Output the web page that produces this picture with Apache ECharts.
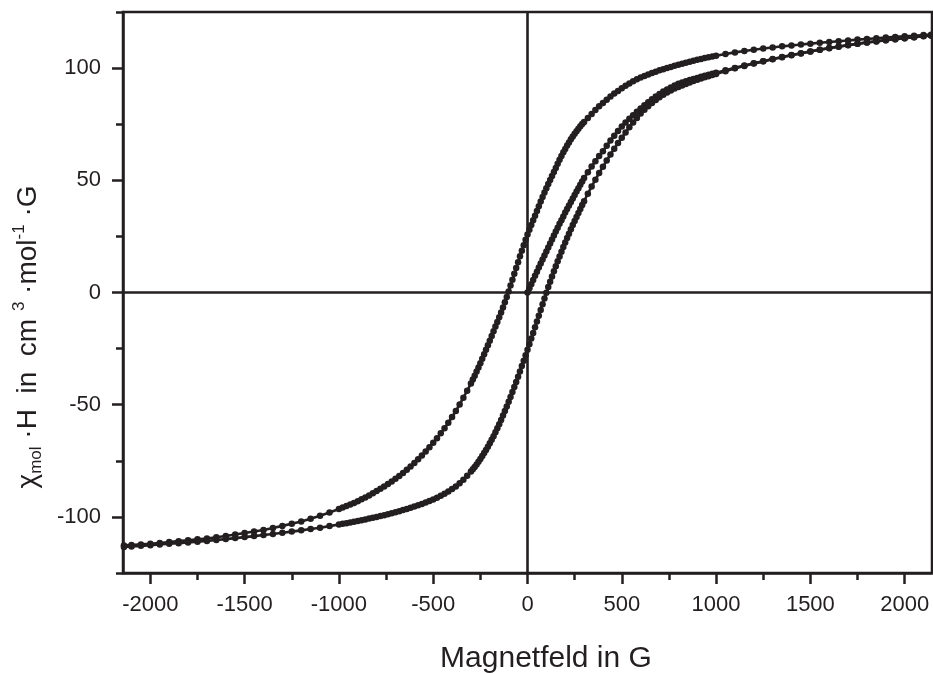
<!DOCTYPE html>
<html>
<head>
<meta charset="utf-8">
<script src="https://cdn.jsdelivr.net/npm/echarts@6/dist/echarts.min.js"></script>
<style>
html,body{margin:0;padding:0;background:#fff;}
#chart{width:933px;height:673px;}
</style>
</head>
<body>
<div id="chart"></div>
<script>
// ---- data (field in G, chi*H) ----
const branchVirgin = [
[0,0],[10,1.86],[20,3.72],[30,5.58],[40,7.44],[50,9.3],[60,11.1],[70,12.9],[80,14.7],[90,16.5],[100,18.3],
[110,20.08],[120,21.86],[130,23.64],[140,25.42],[150,27.2],[160,28.9],[170,30.6],[180,32.25],[190,33.9],[200,35.6],
[210,37.2],[220,38.8],[230,40.35],[240,41.9],[250,43.5],[260,45.0],[270,46.5],[280,48.0],[290,49.5],[300,51.0],
[320,53.6],[340,56.1],[360,58.5],[380,60.8],[400,63.0],[420,65.4],[440,67.7],[460,69.9],[480,72.0],[500,74.0],
[520,75.75],[540,77.4],[560,79.0],[580,80.55],[600,82.0],[620,83.45],[640,84.8],[660,86.1],[680,87.35],[700,88.5],
[720,89.55],[740,90.5],[760,91.4],[780,92.25],[800,93.0],[820,93.6],[840,94.15],[860,94.67],[880,95.15],[900,95.6],
[920,96.1],[940,96.57],[960,97.03],[980,97.47],[1000,97.9],
[1050,99.0],[1100,100.1],[1150,101.15],[1200,102.15],[1250,103.1],[1300,104.05],[1350,104.95],[1400,105.8],
[1450,106.65],[1500,107.45],[1550,108.2],[1600,108.95],[1650,109.6],[1700,110.25],[1750,110.85],[1800,111.45],
[1850,111.95],[1900,112.45],[1950,112.9],[2000,113.35],[2050,113.8],[2100,114.25],[2140,114.5]
];
const branchDown = [
[2140,114.9],[2100,114.7],[2050,114.4],[2000,114.2],[1950,113.9],[1900,113.6],[1850,113.3],[1800,113.0],
[1750,112.7],[1700,112.3],[1650,112.0],[1600,111.6],[1550,111.3],[1500,110.9],[1450,110.5],[1400,110.1],
[1350,109.7],[1300,109.2],[1250,108.7],[1200,108.2],[1150,107.6],[1100,107.0],[1050,106.3],[1000,105.5],
[980,105.15],[960,104.8],[940,104.45],[920,104.1],[900,103.7],[880,103.28],[860,102.85],[840,102.4],[820,101.95],
[800,101.5],[780,101.02],[760,100.52],[740,100.02],[720,99.52],[700,99.0],[680,98.42],[660,97.8],[640,97.15],
[620,96.5],[600,95.8],[580,95.0],[560,94.1],[540,93.1],[520,92.1],[500,91.0],[480,89.85],[460,88.65],[440,87.35],
[420,85.95],[400,84.5],[380,82.95],[360,81.3],[340,79.6],[320,77.8],[300,76.0],
[290,75.05],[280,74.05],[270,73.0],[260,71.9],[250,70.75],[240,69.55],[230,68.25],[220,66.9],[210,65.5],[200,64.0],
[190,62.45],[180,60.85],[170,59.15],[160,57.35],[150,55.5],[140,53.75],[130,51.95],[120,50.15],[110,48.35],[100,46.5],
[90,44.55],[80,42.55],[70,40.5],[60,38.4],[50,36.3],[40,34.25],[30,32.15],[20,30.05],[10,27.95],[0,25.8],
[-10,23.5],[-20,21.1],[-30,18.6],[-40,16.1],[-50,13.5],[-60,10.9],[-70,8.3],[-80,5.7],[-90,3.1],[-100,0.5],
[-110,-2.0],[-120,-4.4],[-130,-6.7],[-140,-8.9],[-150,-11.0],[-160,-13.1],[-170,-15.2],[-180,-17.3],[-190,-19.4],[-200,-21.5],
[-210,-23.5],[-220,-25.5],[-230,-27.5],[-240,-29.5],[-250,-31.5],[-260,-33.4],[-270,-35.25],[-280,-37.05],[-290,-38.8],[-300,-40.5],
[-320,-43.8],[-340,-46.9],[-360,-49.9],[-380,-52.8],[-400,-55.5],[-420,-58.05],[-440,-60.45],[-460,-62.75],[-480,-64.95],[-500,-67.0],
[-520,-68.95],[-540,-70.8],[-560,-72.6],[-580,-74.35],[-600,-76.0],[-620,-77.55],[-640,-79.0],[-660,-80.4],[-680,-81.75],[-700,-83.0],
[-720,-84.2],[-740,-85.35],[-760,-86.45],[-780,-87.5],[-800,-88.5],[-820,-89.48],[-840,-90.41],[-860,-91.31],[-880,-92.18],[-900,-93.0],
[-920,-93.76],[-940,-94.48],[-960,-95.18],[-980,-95.86],[-1000,-96.5],
[-1050,-98.05],[-1100,-99.5],[-1150,-100.8],[-1200,-102.0],[-1250,-103.05],[-1300,-104.0],[-1350,-104.95],[-1400,-105.8],
[-1450,-106.5],[-1500,-107.2],[-1550,-107.85],[-1600,-108.5],[-1650,-109.05],[-1700,-109.6],[-1750,-110.0],[-1800,-110.4],
[-1850,-110.8],[-1900,-111.2],[-1950,-111.6],[-2000,-112.0],[-2050,-112.25],[-2100,-112.5],[-2140,-112.7]
];
const branchUp = [
[-2140,-113.4],[-2100,-113.2],[-2050,-112.9],[-2000,-112.6],[-1950,-112.3],[-1900,-112.0],[-1850,-111.7],[-1800,-111.4],
[-1750,-111.05],[-1700,-110.7],[-1650,-110.3],[-1600,-109.9],[-1550,-109.45],[-1500,-109.0],[-1450,-108.55],[-1400,-108.1],
[-1350,-107.6],[-1300,-107.1],[-1250,-106.55],[-1200,-106.0],[-1150,-105.4],[-1100,-104.8],[-1050,-104.1],[-1000,-103.4],
[-980,-103.1],[-960,-102.79],[-940,-102.47],[-920,-102.14],[-900,-101.8],[-880,-101.47],[-860,-101.12],[-840,-100.76],
[-820,-100.39],[-800,-100.0],[-780,-99.62],[-760,-99.22],[-740,-98.8],[-720,-98.36],[-700,-97.9],[-680,-97.45],
[-660,-96.97],[-640,-96.47],[-620,-95.95],[-600,-95.4],[-580,-94.85],[-560,-94.25],[-540,-93.61],[-520,-92.93],
[-500,-92.2],[-480,-91.45],[-460,-90.6],[-440,-89.68],[-420,-88.68],[-400,-87.6],[-380,-86.4],[-360,-85.0],
[-340,-83.45],[-320,-81.7],[-300,-79.8],
[-290,-78.8],[-280,-77.73],[-270,-76.61],[-260,-75.43],[-250,-74.2],[-240,-72.9],[-230,-71.54],[-220,-70.14],[-210,-68.7],[-200,-67.2],
[-190,-65.65],[-180,-64.03],[-170,-62.33],[-160,-60.55],[-150,-58.7],[-140,-56.8],[-130,-54.85],[-120,-52.85],[-110,-50.8],[-100,-48.7],
[-90,-46.55],[-80,-44.35],[-70,-42.11],[-60,-39.83],[-50,-37.5],[-40,-35.15],[-30,-32.77],[-20,-30.37],[-10,-27.95],[0,-25.5],
[10,-23.02],[20,-20.52],[30,-18.0],[40,-15.46],[50,-12.9],[60,-10.34],[70,-7.78],[80,-5.22],[90,-2.66],[100,-0.1],
[110,2.4],[120,4.82],[130,7.18],[140,9.48],[150,11.7],[160,13.88],[170,16.02],[180,18.14],[190,20.24],[200,22.3],
[210,24.28],[220,26.22],[230,28.14],[240,30.04],[250,31.9],[260,33.7],[270,35.48],[280,37.24],[290,38.98],[300,40.7],
[320,44.0],[340,47.2],[360,50.25],[380,53.2],[400,56.0],[420,58.8],[440,61.5],[460,64.1],[480,66.6],[500,69.0],
[520,71.35],[540,73.6],[560,75.75],[580,77.8],[600,79.8],[620,81.45],[640,83.0],[660,84.45],[680,85.8],[700,87.0],
[720,88.1],[740,89.1],[760,90.02],[780,90.86],[800,91.6],[820,92.3],[840,92.96],[860,93.6],[880,94.22],[900,94.8],
[920,95.36],[940,95.89],[960,96.41],[980,96.91],[1000,97.4],
[1050,98.65],[1100,99.9],[1150,100.95],[1200,102.0],[1250,103.0],[1300,103.95],[1350,104.85],[1400,105.7],
[1450,106.55],[1500,107.4],[1550,108.15],[1600,108.9],[1650,109.55],[1700,110.2],[1750,110.8],[1800,111.4],
[1850,111.9],[1900,112.4],[1950,112.85],[2000,113.3],[2050,113.75],[2100,114.2],[2140,114.5]
];
const xMajorTicks = [-2000,-1500,-1000,-500,0,500,1000,1500,2000];
const xMinorTicks = [-1750,-1250,-750,-250,250,750,1250,1750];
const yMajorTicks = [-100,-50,0,50,100];
const yMinorTicks = [-125,-75,-25,25,75,125];
const xRange = [-2145, 2145];
const yRange = [-125, 125];
const zeroLines = [0, 0];
const xTitle = 'Magnetfeld in G';

const INK = '#231f20';
const FONT = "'Liberation Sans', Arial, Helvetica, sans-serif";

const chart = echarts.init(document.getElementById('chart'), null, {renderer: 'canvas'});

function plain(v) { return String(v); }

function mainX(idx, ticks, len, showLabel) {
  return {
    type: 'value', gridIndex: 0, position: 'bottom',
    min: xRange[0], max: xRange[1],
    axisLine: {show: idx === 0, onZero: false, lineStyle: {color: INK, width: 2.5}},
    splitLine: {show: false},
    axisTick: {show: true, inside: false, length: len, customValues: ticks, lineStyle: {color: INK, width: 2.5}},
    axisLabel: {show: showLabel, customValues: ticks, formatter: plain, fontSize: 22, fontFamily: FONT, color: INK, margin: 21},
    z: 5
  };
}
function mainY(idx, ticks, len, showLabel) {
  return {
    type: 'value', gridIndex: 0, position: 'left',
    min: yRange[0], max: yRange[1],
    axisLine: {show: idx === 0, onZero: false, lineStyle: {color: INK, width: 2.5}},
    splitLine: {show: false},
    axisTick: {show: true, inside: false, length: len, customValues: ticks, lineStyle: {color: INK, width: 2.5}},
    axisLabel: {show: showLabel, customValues: ticks, formatter: plain, fontSize: 22, fontFamily: FONT, color: INK, margin: 22},
    z: 5
  };
}

function branch(name, data) {
  return {
    name: name, type: 'line', xAxisIndex: 0, yAxisIndex: 0,
    data: data, symbol: 'circle', symbolSize: 6.5, showAllSymbol: true,
    itemStyle: {color: INK, borderWidth: 0}, lineStyle: {color: INK, width: 2.6},
    emphasis: {disabled: true},
    smooth: false, clip: true, silent: true, z: 3
  };
}

const seriesList = [
  branch('virgin', branchVirgin),
  branch('down', branchDown),
  branch('up', branchUp)
];
seriesList[0].markLine = {
  silent: true, symbol: ['none', 'none'], animation: false,
  label: {show: false},
  emphasis: {disabled: true},
  lineStyle: {color: INK, width: 2.6, type: 'solid', opacity: 1},
  data: [{xAxis: zeroLines[0]}, {yAxis: zeroLines[1]}]
};

chart.setOption({
  animation: false,
  backgroundColor: '#ffffff',
  grid: {left: 123, right: 1, top: 12, bottom: 100, show: true, borderColor: INK, borderWidth: 2.5, backgroundColor: 'transparent', containLabel: false},
  xAxis: [mainX(0, xMajorTicks, 11, true), mainX(1, xMinorTicks, 7, false)],
  yAxis: [mainY(0, yMajorTicks, 11, true), mainY(1, yMinorTicks, 7, false)],
  series: seriesList,
  graphic: [
    {
      type: 'text', x: 546, y: 659, z: 10,
      style: {text: xTitle, font: '30px ' + FONT, fill: INK, align: 'center', verticalAlign: 'middle', textAlign: 'center', textVerticalAlign: 'middle'}
    },
    {
      type: 'text', x: 28, y: 337, rotation: Math.PI / 2, z: 10,
      style: {
        text: '{b|\u03c7}{sub|mol}{b| \u00b7H  in  cm }{sup|3}{b| \u00b7mol}{sup|-1}{b| \u00b7G}',
        font: '28px ' + FONT, fill: INK,
        align: 'center', verticalAlign: 'middle', textAlign: 'center', textVerticalAlign: 'middle',
        rich: {
          b: {fontSize: 28, fontFamily: FONT, fill: INK, lineHeight: 34, verticalAlign: 'middle'},
          sub: {fontSize: 17, fontFamily: FONT, fill: INK, lineHeight: 12, verticalAlign: 'bottom'},
          sup: {fontSize: 17, fontFamily: FONT, fill: INK, lineHeight: 12, verticalAlign: 'top'}
        }
      }
    }
  ]
});
</script>
</body>
</html>
